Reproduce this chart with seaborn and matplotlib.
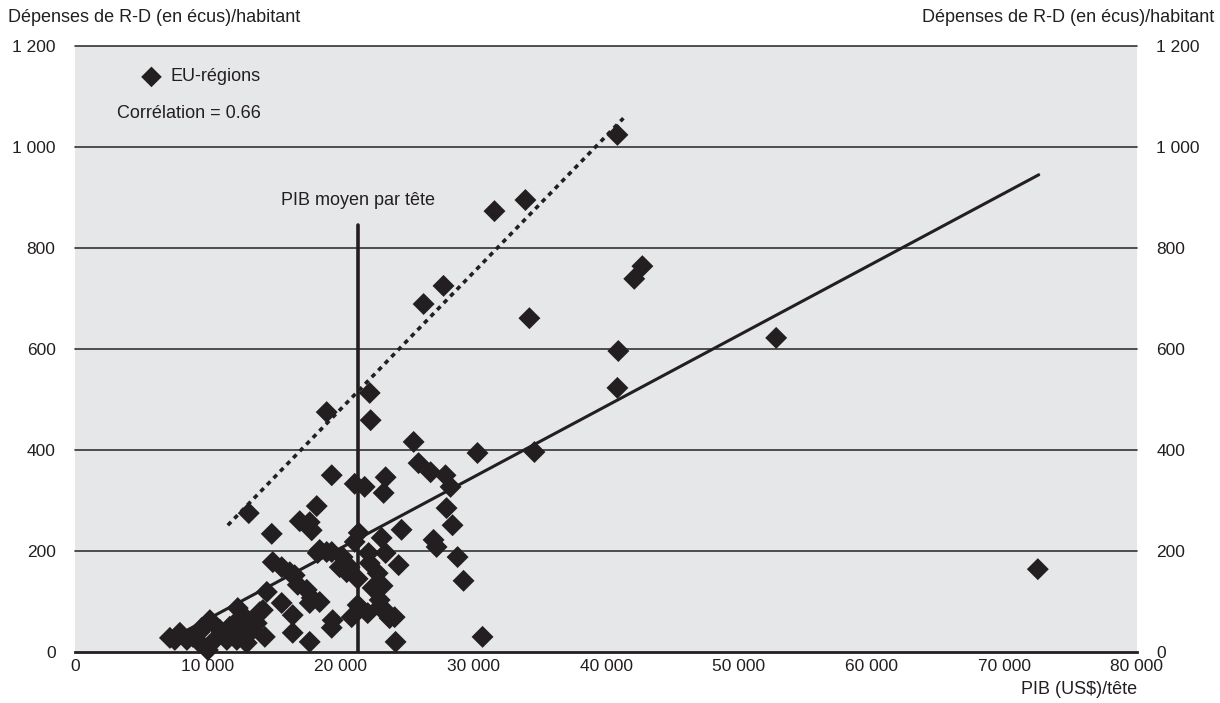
import matplotlib
matplotlib.use("Agg")
import matplotlib.pyplot as plt
import seaborn as sns
import pandas as pd
from matplotlib.ticker import FuncFormatter

# ---- data ----
gdp = [40860, 33930, 31600, 27760, 26260, 34230, 42740, 42130, 52820, 40930,
       40860, 34610, 30320, 72530, 30700, 18960, 22200, 22270, 25510, 25880,
       26790, 27910, 28290, 27990, 28440, 28820, 29270, 27010, 27240, 24600,
       24380, 23400, 23250, 21070, 21820, 19340, 13090, 18210, 16930, 17680,
       17830, 14820, 21370, 21070, 23100, 23400, 22120, 22200, 22800, 21290,
       22420, 23170, 22950, 23320, 24080, 23700, 22050, 21290, 20840, 19410,
       19340, 20160, 20470, 19940, 19340, 24150, 18280, 18960, 14900, 15570,
       16180, 16550, 16780, 17460, 18430, 17830, 14450, 15570, 16400, 16400,
       17680, 14300, 13920, 13390, 12260, 12410, 12640, 11660, 10910, 7900,
       7150, 8430, 9400, 9400, 10010, 10530, 11440, 12190, 12940, 10160,
       12790, 8880, 9560, 11060, 12040, 13390, 11890, 14150, 17680, 13690,
       22950, 20690, 18430, 7520]
rd = [1024, 895, 873, 725, 689, 661, 764, 739, 622, 596,
      523, 396, 394, 164, 30, 475, 513, 459, 416, 374,
      356, 350, 327, 285, 251, 188, 141, 222, 208, 242,
      172, 346, 315, 333, 327, 350, 275, 289, 259, 257,
      241, 234, 236, 218, 226, 196, 196, 176, 156, 145,
      127, 131, 103, 83, 69, 67, 77, 93, 69, 63,
      48, 188, 158, 168, 198, 20, 196, 198, 178, 168,
      158, 152, 133, 123, 99, 107, 119, 97, 73, 38,
      20, 30, 79, 63, 87, 63, 44, 50, 44, 38,
      28, 24, 40, 18, 4, 24, 24, 24, 18, 63,
      69, 30, 48, 38, 57, 44, 40, 83, 97, 57,
      89, 168, 202, 24]

fit_all_x = [7150, 72600]
fit_all_y = [25, 945]
fit_high_x = [11510, 41310]
fit_high_y = [251, 1057]
mean_gdp = 21290
mean_line_top = 845

x_ticks = [0, 10000, 20000, 30000, 40000, 50000, 60000, 70000, 80000]
y_ticks = [0, 200, 400, 600, 800, 1000, 1200]

# ---- style ----
sns.set_style("white")
plt.rcParams['font.family'] = ['Liberation Sans', 'DejaVu Sans']
INK = "#231f20"
BG = "#e6e7e8"
FS_TXT = 13
FS_TICK = 12.5

fig = plt.figure(figsize=(12.2, 7.03), dpi=100)
ax = fig.add_axes([75/1220, 1 - 652/703, (1137-75)/1220, (652-46)/703])
ax.set_facecolor(BG)

df = pd.DataFrame({"gdp": gdp, "rd": rd})
sns.scatterplot(data=df, x="gdp", y="rd", marker="D", s=125, color=INK,
                edgecolor="none", linewidth=0, ax=ax, zorder=4, clip_on=False)

ax.plot(fit_all_x, fit_all_y, color=INK, lw=2.2, zorder=3)
ax.plot(fit_high_x, fit_high_y, color=INK, lw=2.6, linestyle=(0, (1.3, 1.3)), zorder=3)
ax.plot([mean_gdp, mean_gdp], [0, mean_line_top], color=INK, lw=2.6, zorder=3)
ax.text(mean_gdp, mean_line_top + 33, "PIB moyen par tête", ha="center", va="bottom",
        fontsize=FS_TXT, color=INK)

ax.set_xlim(0, 80000)
ax.set_ylim(0, 1200)
ax.set_xticks(x_ticks)
ax.set_yticks(y_ticks)
fmt = FuncFormatter(lambda v, p: f"{v:,.0f}".replace(",", " "))
ax.xaxis.set_major_formatter(fmt)
ax.yaxis.set_major_formatter(fmt)

for y in y_ticks[1:]:
    ax.axhline(y, color="#333333", lw=1.2, zorder=1, clip_on=False)

for s in ["top", "left", "right"]:
    ax.spines[s].set_visible(False)
ax.spines["bottom"].set_color(INK)
ax.spines["bottom"].set_linewidth(2)
ax.spines["bottom"].set_zorder(5)

ax.tick_params(axis="x", direction="in", length=8, width=1.3, color=INK,
               labelsize=FS_TICK, labelcolor=INK, pad=5)
ax.tick_params(axis="y", length=0, labelsize=FS_TICK, labelcolor=INK,
               labelleft=True, labelright=True, pad=14)
ax.set_xlabel("")
ax.set_ylabel("")

fig.text(8/1220, 1 - 18/703, "Dépenses de R-D (en écus)/habitant", ha="left", va="center",
         fontsize=FS_TXT, color=INK)
fig.text(1214/1220, 1 - 18/703, "Dépenses de R-D (en écus)/habitant", ha="right", va="center",
         fontsize=FS_TXT, color=INK)
fig.text(1137/1220, 1 - 690/703, "PIB (US\\$)/tête", ha="right", va="center",
         fontsize=FS_TXT, color=INK)

# legend / annotation
ax.scatter([0.072], [0.949], marker="D", s=110, color=INK, transform=ax.transAxes,
           edgecolor="none", clip_on=False, zorder=6)
ax.text(0.090, 0.949, "EU-régions", transform=ax.transAxes, ha="left", va="center",
        fontsize=FS_TXT, color=INK)
ax.text(0.0395, 0.889, "Corrélation = 0.66", transform=ax.transAxes, ha="left", va="center",
        fontsize=FS_TXT, color=INK)

fig.savefig("out.png", dpi=100, facecolor="white")
